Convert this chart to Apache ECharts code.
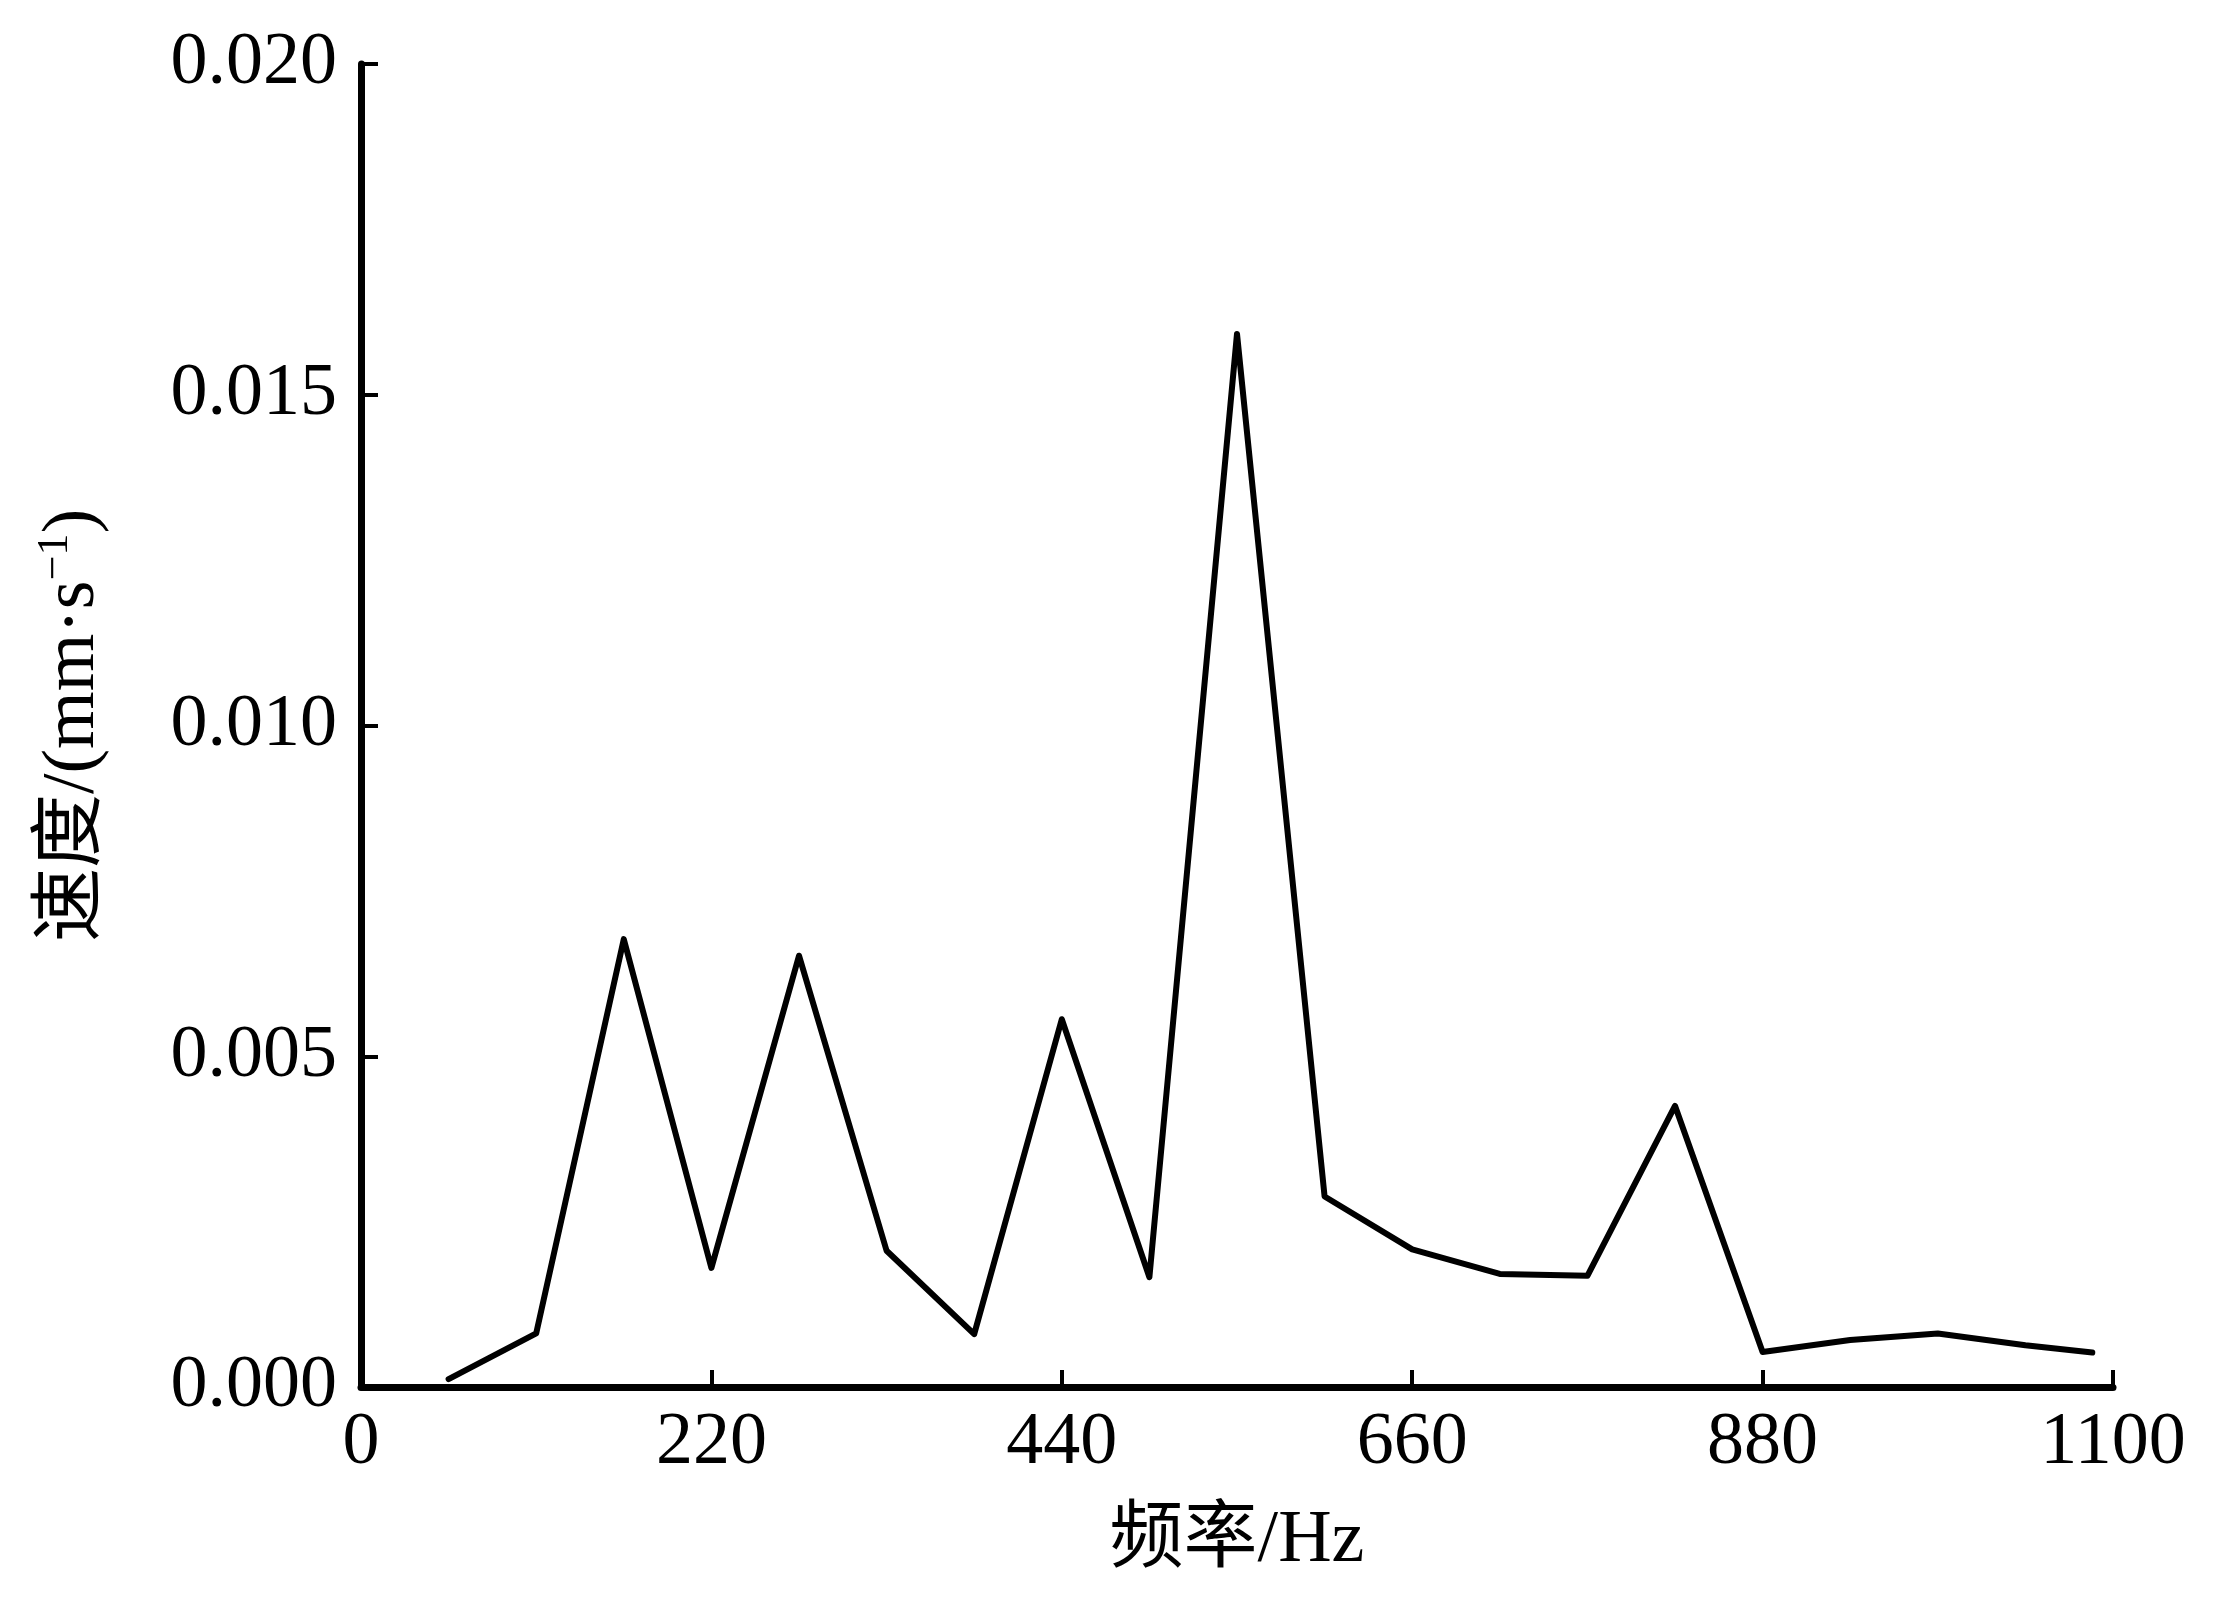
<!DOCTYPE html>
<html>
<head>
<meta charset="utf-8">
<script src="https://cdn.jsdelivr.net/npm/echarts@6/dist/echarts.min.js"></script>
<style>
html,body{margin:0;padding:0;background:#fff;}
#chart{width:2226px;height:1623px;}
</style>
</head>
<body>
<div id="chart"></div>
<script>
// Data
const frequencies = [55, 110, 165, 220, 275, 330, 385, 440, 495, 550, 605, 660, 715, 770, 825, 880, 935, 990, 1045, 1087];
const velocities = [0.00012, 0.00081, 0.00677, 0.00180, 0.00652, 0.00206, 0.00080, 0.00556, 0.00166, 0.01592,
                    0.00288, 0.00208, 0.00171, 0.00168, 0.00425, 0.00053, 0.00071, 0.00081, 0.00063, 0.00052];
const xTicks = [0, 220, 440, 660, 880, 1100];
const yTicks = ['0.000', '0.005', '0.010', '0.015', '0.020'];
const xName = '频率/Hz';
const yNameMain = '速度/(mm·s';
const yNameSup = '−1';
const yNameEnd = ')';

const fontFam = '"Liberation Serif", "Times New Roman", "Noto Sans CJK SC", serif';
const chart = echarts.init(document.getElementById('chart'));
const seriesData = frequencies.map((f, i) => [f, velocities[i]]);

chart.setOption({
  backgroundColor: '#ffffff',
  animation: false,
  grid: {left: 361, right: 113, top: 64, bottom: 236, containLabel: false},
  xAxis: {
    type: 'value',
    min: 0, max: 1100, interval: 220,
    name: xName,
    nameLocation: 'middle',
    nameGap: 118,
    nameTextStyle: {fontFamily: fontFam, fontSize: 74, color: '#000'},
    axisLine: {show: true, onZero: false, lineStyle: {color: '#000', width: 7}},
    axisTick: {show: true, inside: true, length: 17, lineStyle: {color: '#000', width: 4}},
    axisLabel: {fontFamily: fontFam, fontSize: 74, color: '#000', margin: 20,
      formatter: v => String(v)},
    splitLine: {show: false}
  },
  yAxis: {
    type: 'value',
    min: 0, max: 0.02, interval: 0.005,
    name: '{m|' + yNameMain + '}{s|' + yNameSup + '}{m|' + yNameEnd + '}',
    nameLocation: 'middle',
    nameGap: 250,
    nameRotate: 90,
    nameTextStyle: {
      fontFamily: fontFam, fontSize: 74, color: '#000',
      rich: {
        m: {fontFamily: fontFam, fontSize: 74, color: '#000', verticalAlign: 'bottom', lineHeight: 80},
        s: {fontFamily: fontFam, fontSize: 44, color: '#000', verticalAlign: 'bottom', padding: [0, 0, 34, 0], lineHeight: 80}
      }
    },
    axisLine: {show: true, lineStyle: {color: '#000', width: 7}},
    axisTick: {show: true, inside: true, length: 17, lineStyle: {color: '#000', width: 4}},
    axisLabel: {fontFamily: fontFam, fontSize: 74, color: '#000', margin: 24,
      formatter: v => yTicks[Math.round(v / 0.005)]},
    splitLine: {show: false}
  },
  series: [{
    type: 'line',
    data: seriesData,
    symbol: 'none',
    lineStyle: {color: '#000', width: 6, join: 'round', cap: 'round'},
    itemStyle: {color: '#000'}
  }]
});
</script>
</body>
</html>
